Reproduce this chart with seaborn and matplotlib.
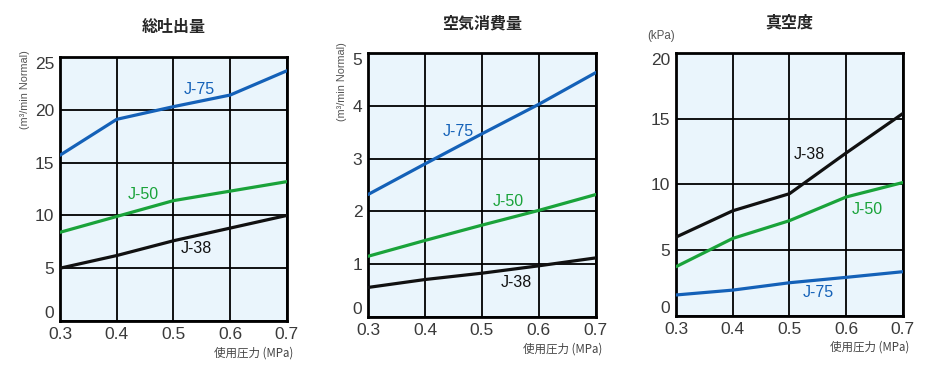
import numpy as np
import pandas as pd
import matplotlib
matplotlib.use('Agg')
import matplotlib.pyplot as plt
import seaborn as sns

# dados
pressure = [0.3, 0.4, 0.5, 0.6, 0.7]
models = ['J-38', 'J-50', 'J-75']

discharge_j38 = [5.0, 6.2, 7.6, 8.8, 10.0]
discharge_j50 = [8.4, 9.9, 11.4, 12.3, 13.2]
discharge_j75 = [15.7, 19.1, 20.3, 21.4, 23.7]

air_j38 = [0.56, 0.71, 0.83, 0.97, 1.12]
air_j50 = [1.15, 1.45, 1.74, 2.02, 2.32]
air_j75 = [2.32, 2.90, 3.47, 4.03, 4.63]

vacuum_j38 = [6.0, 8.0, 9.3, 12.4, 15.4]
vacuum_j50 = [3.75, 5.9, 7.25, 9.05, 10.15]
vacuum_j75 = [1.6, 1.97, 2.53, 2.94, 3.37]

titles = ['総吐出量', '空気消費量', '真空度']
y_limits = [25, 5, 20]
y_steps = [5, 1, 5]

colors = {'J-38': '#111111', 'J-50': '#1aa33a', 'J-75': '#1461b8'}

# posicao dos rotulos das linhas (x, y) em coordenadas de dados
label_pos = [
    {'J-75': (0.545, 21.9), 'J-50': (0.446, 12.0), 'J-38': (0.54, 6.9)},
    {'J-75': (0.459, 3.52), 'J-50': (0.547, 2.18), 'J-38': (0.56, 0.66)},
    {'J-38': (0.535, 12.3), 'J-50': (0.638, 8.13), 'J-75': (0.55, 1.8)},
]

def long_df(j38, j50, j75):
    rows = []
    for name, vals in zip(models, [j38, j50, j75]):
        for p, v in zip(pressure, vals):
            rows.append({'pressure': p, 'value': v, 'model': name})
    return pd.DataFrame(rows)

frames = [
    long_df(discharge_j38, discharge_j50, discharge_j75),
    long_df(air_j38, air_j50, air_j75),
    long_df(vacuum_j38, vacuum_j50, vacuum_j75),
]

sns.set_style('white')
plt.rcParams['font.family'] = ['Liberation Sans', 'DejaVu Sans']
cjk = ['Noto Sans CJK JP', 'DejaVu Sans']

fig = plt.figure(figsize=(9.3, 3.7), dpi=100)
positions = [
    [0.0645, 0.1324, 0.244, 0.7135],
    [0.3957, 0.1432, 0.245, 0.7135],
    [0.7269, 0.1459, 0.244, 0.711],
]

for i, df in enumerate(frames):
    ax = fig.add_axes(positions[i])
    ax.set_facecolor('#eaf5fc')
    sns.lineplot(data=df, x='pressure', y='value', hue='model', palette=colors,
                 linewidth=2.3, legend=False, ax=ax, zorder=3)
    ax.set_xlim(0.3, 0.7)
    ax.set_ylim(0, y_limits[i])
    ax.set_xticks(pressure)
    ax.set_xticklabels([f'{p:.1f}' for p in pressure])
    ax.set_yticks(np.arange(0, y_limits[i] + 0.001, y_steps[i]))
    ax.grid(True, color='black', linewidth=1.3)
    ax.set_axisbelow(True)
    for s in ax.spines.values():
        s.set_color('black')
        s.set_linewidth(2)
    ax.tick_params(length=0, labelsize=12.5, labelcolor='#3a3a3a', pad=4)
    # primeiro e ultimo rotulo do eixo y puxados para dentro, como no original
    ylabels = ax.get_yticklabels()
    ylabels[0].set_va('bottom')
    ylabels[-1].set_va('top')
    ax.set_xlabel('')
    ax.set_ylabel('')
    ax.set_title(titles[i], family=cjk, fontsize=11.5, fontweight='bold', pad=18)
    for name, (lx, ly) in label_pos[i].items():
        ax.text(lx, ly, name, color=colors[name], fontsize=11.5,
                ha='center', va='center', zorder=4)
    ax.text(1.03, -0.095, '使用圧力 (MPa)', transform=ax.transAxes, ha='right', va='top',
            family=cjk, fontsize=8.3, color='#444444')

fig.text(25 / 930, 1 - 90 / 370, '(m³/min Normal)', rotation=90, ha='center', va='center',
         fontsize=7.8, color='#555555')
fig.text(342 / 930, 1 - 82 / 370, '(m³/min Normal)', rotation=90, ha='center', va='center',
         fontsize=7.8, color='#555555')
fig.text(661 / 930, 1 - 36 / 370, '(kPa)', ha='center', va='center',
         fontsize=8.3, color='#555555')

fig.savefig('out.png', dpi=100, facecolor='white')
